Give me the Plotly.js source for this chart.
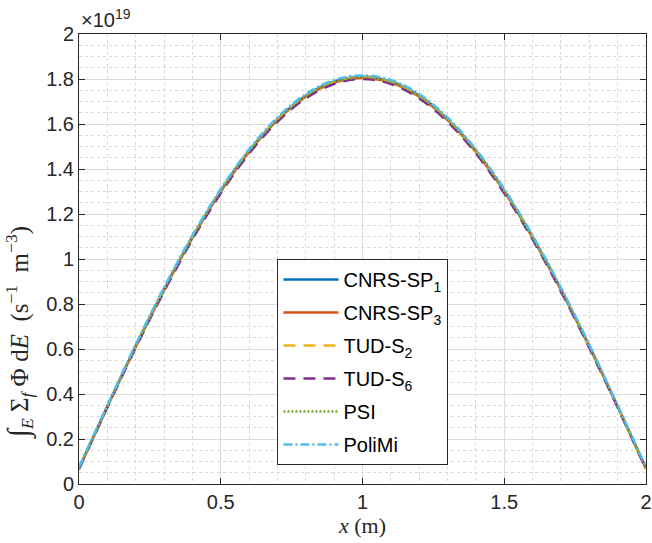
<!DOCTYPE html>
<html><head><meta charset="utf-8">
<script src="https://cdn.plot.ly/plotly-3.0.1.min.js"></script>
<style>html,body{margin:0;padding:0;background:#fff}#chart{width:652px;height:543px}</style>
</head><body><div id="chart"></div>
<script>
// positions x (m)
const xPos = [0,0.1,0.2,0.3,0.4,0.5,0.6,0.7,0.8,0.9,1.0,1.1,1.2,1.3,1.4,1.5,1.6,1.7,1.8,1.9,2.0];
// fission rate in units of 1e19 s^-1 m^-3
const cnrsSP1 = [0.070,0.345,0.613,0.866,1.098,1.304,1.481,1.622,1.726,1.789,1.810,1.789,1.726,1.622,1.481,1.304,1.098,0.866,0.613,0.345,0.070];
const cnrsSP3 = [0.068,0.343,0.610,0.862,1.094,1.300,1.476,1.617,1.721,1.784,1.805,1.784,1.721,1.617,1.476,1.300,1.094,0.862,0.610,0.343,0.068];
const tudS2   = [0.069,0.344,0.612,0.865,1.097,1.302,1.479,1.620,1.724,1.787,1.808,1.787,1.724,1.620,1.479,1.302,1.097,0.865,0.612,0.344,0.069];
const tudS6   = [0.066,0.340,0.605,0.856,1.087,1.292,1.469,1.610,1.714,1.778,1.800,1.778,1.714,1.610,1.469,1.292,1.087,0.856,0.605,0.340,0.066];
const psi     = [0.069,0.344,0.611,0.864,1.096,1.302,1.479,1.620,1.724,1.787,1.808,1.787,1.724,1.620,1.479,1.302,1.096,0.864,0.611,0.344,0.069];
const poliMi  = [0.075,0.350,0.620,0.873,1.105,1.311,1.488,1.629,1.733,1.796,1.816,1.796,1.733,1.629,1.488,1.311,1.105,0.873,0.620,0.350,0.075];
const names = ['CNRS-SP<sub>1</sub>','CNRS-SP<sub>3</sub>','TUD-S<sub>2</sub>','TUD-S<sub>6</sub>','PSI','PoliMi'];
const series = [cnrsSP1, cnrsSP3, tudS2, tudS6, psi, poliMi];
const colors = ['#0072BD','#D95319','#EDB120','#7E2F8E','#77AC30','#4DBEEE'];
const dashes = ['solid','solid','12px,8px','12px,8px','2px,2px','9px,3px,2px,3px'];

const traces = series.map((s,i)=>({
  x: xPos, y: s, type:'scatter', mode:'lines', name: names[i],
  legendgroup: 'g'+i,
  line:{color:colors[i], width:2.5, dash:dashes[i], shape:'spline', smoothing:1}
}));

const sans = 'Liberation Sans, Arial, sans-serif';
const serif = 'Liberation Serif, Times New Roman, serif';
const axCommon = {
  showline:true, linecolor:'#262626', linewidth:1, mirror:'ticks',
  ticks:'inside', ticklen:6, tickcolor:'#262626', tickwidth:1,
  showgrid:true, gridcolor:'#dcdcdc', gridwidth:1, zeroline:false,
  ticklabeloverflow:'allow',
  tickfont:{family:sans, size:20, color:'#262626'}
};
const layout = {
  width:652, height:543,
  margin:{l:79, r:6, t:34, b:59},
  paper_bgcolor:'#fff', plot_bgcolor:'#fff',
  showlegend:true,
  legend:{x:0.35, y:0.5, xanchor:'left', yanchor:'top',
    bgcolor:'#fff', bordercolor:'#262626', borderwidth:1,
    font:{family:sans, size:20, color:'#000'},
    tracegroupgap:4, itemwidth:55},
  xaxis:Object.assign({}, axCommon, {range:[0,2], tickvals:[0,0.5,1,1.5,2], ticktext:['0','0.5','1','1.5','2'],
    minor:{dtick:0.1, showgrid:true, gridcolor:'#d9d9d9', griddash:'dot', gridwidth:1, ticks:''},
    title:{text:'<i>x</i> (m)', font:{family:serif, size:22, color:'#262626'}, standoff:4}}),
  yaxis:Object.assign({}, axCommon, {range:[0,2], tickvals:[0,0.2,0.4,0.6,0.8,1,1.2,1.4,1.6,1.8,2], ticktext:['0','0.2','0.4','0.6','0.8','1','1.2','1.4','1.6','1.8','2'],
    minor:{dtick:0.05, showgrid:true, gridcolor:'#d9d9d9', griddash:'dot', gridwidth:1, ticks:''}}),
  annotations:[
    {xref:'paper', yref:'paper', x:0, y:1, xanchor:'left', yanchor:'bottom', yshift:1,
     text:'×10<sup>19</sup>', showarrow:false, font:{family:sans, size:20, color:'#262626'}},
    {xref:'paper', yref:'paper', x:0, y:0.335, xanchor:'center', yanchor:'middle', xshift:-60, textangle:-90,
     text:'<span style="font-size:30px">∫</span><sub><i>E</i></sub> Σ<sub><i>f</i></sub> Φ d<i>E</i>  (s<sup>−1</sup>  m<sup>−3</sup>)',
     showarrow:false, font:{family:serif, size:25, color:'#262626'}}
  ]
};
Plotly.newPlot('chart', traces, layout, {displayModeBar:false, staticPlot:true});
</script></body></html>
